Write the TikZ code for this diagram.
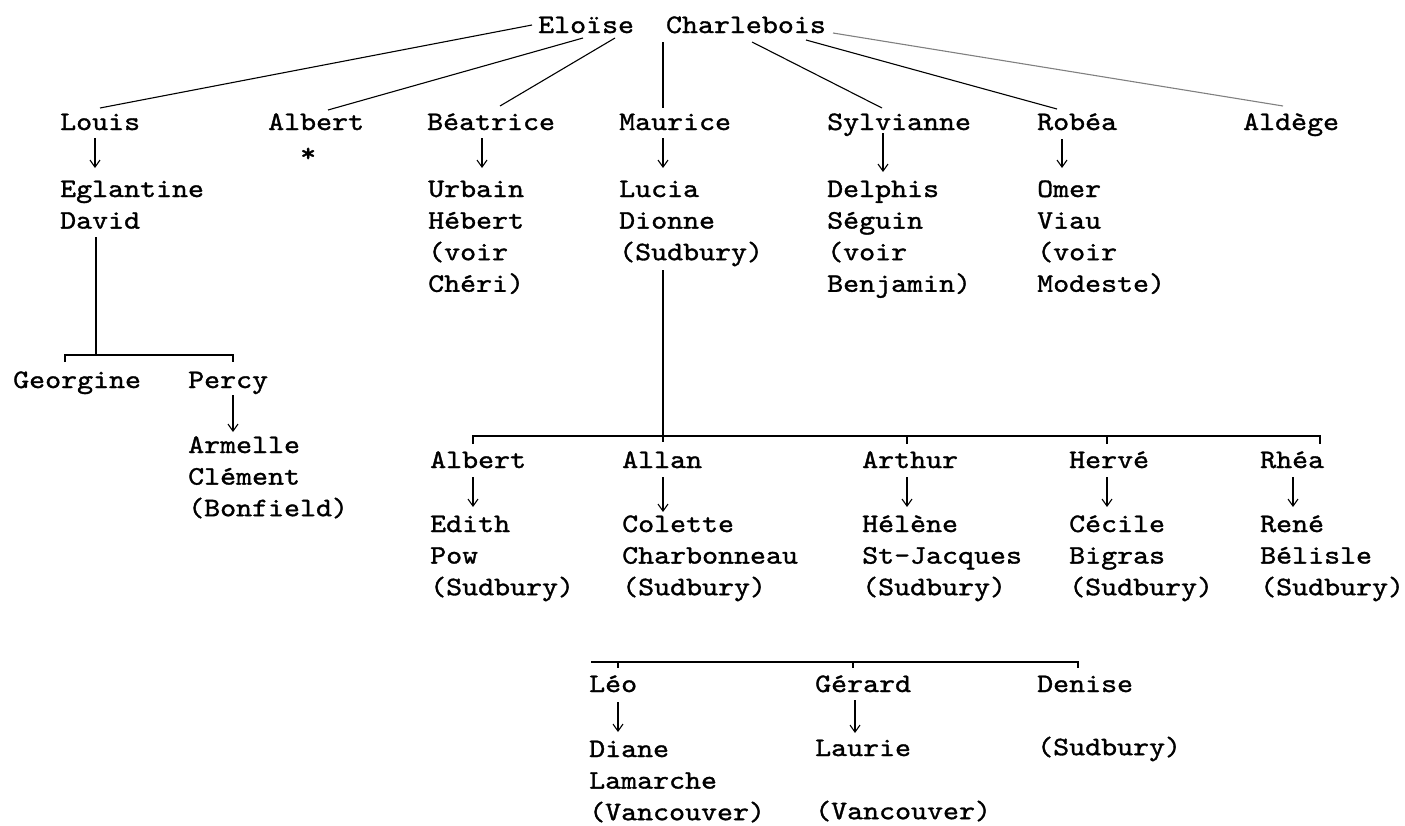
\documentclass[tikz,border=0pt]{standalone}
\usepackage{fontspec}
\newfontfamily\typewriter[FakeStretch=1.14,FakeBold=1.2]{lmmono10-regular.otf}
\usetikzlibrary{arrows,arrows.meta}

% lines of one entry, first line on the node's base
\newcommand{\famlines}[1]{\begin{tabular}[t]{@{}l@{}}#1\end{tabular}}

\tikzset{
  person/.style={anchor=base west,inner sep=0pt,
    font=\typewriter\fontsize{26.7}{31.6}\selectfont},
  link/.style={line width=1.1pt},
  paleline/.style={link,black!50},
  arr/.style={link,-{Straight Barb[length=7pt,width=10pt]}},
}

\begin{document}
\begin{tikzpicture}[x=1pt,y=-1pt]
  \useasboundingbox (0,0) rectangle (1405,825);

  % Eloise and her children
  \node[person] (root) at (538,33) {Eloïse\ \ Charlebois};
  \node[person] (louis) at (60,130) {Louis};
  \node[person] (albert) at (268,130) {\famlines{Albert\\\phantom{Al}*}};
  \node[person] (beatrice) at (427,130) {Béatrice};
  \node[person] (maurice) at (619,130) {Maurice};
  \node[person] (sylvianne) at (827,130) {Sylvianne};
  \node[person] (robea) at (1037,130) {Robéa};
  \node[person] (aldege) at (1243,130) {Aldège};

  \draw[link] ([shift={(-6,-8)}]root.base west) -- ([shift={(40,-22)}]louis.base west);
  \draw[link] ([shift={(45,5)}]root.base west) -- ([shift={(60,-20)}]albert.base west);
  \draw[link] ([shift={(77,5)}]root.base west) -- ([shift={(73,-24)}]beatrice.base west);
  \draw[link] ([shift={(125,9)}]root.base west) -- ([shift={(44,-22)}]maurice.base west);
  \draw[link] ([shift={(214,9)}]root.base west) -- ([shift={(55,-22)}]sylvianne.base west);
  \draw[link] ([shift={(268,7)}]root.base west) -- ([shift={(20,-21)}]robea.base west);
  \draw[paleline] ([shift={(295,0)}]root.base west) -- ([shift={(40,-24)}]aldege.base west);

  % spouses
  \node[person] (eglantine) at (60,197) {\famlines{Eglantine\\David}};
  \node[person] (urbain) at (428,197) {\famlines{Urbain\\Hébert\\(voir\\Chéri)}};
  \node[person] (lucia) at (619,197) {\famlines{Lucia\\Dionne\\(Sudbury)}};
  \node[person] (delphis) at (827,197) {\famlines{Delphis\\Séguin\\(voir\\Benjamin)}};
  \node[person] (omer) at (1037,197) {\famlines{Omer\\Viau\\(voir\\Modeste)}};

  \draw[arr] ([shift={(35,8)}]louis.base west) -- ([shift={(35,-29)}]eglantine.base west);
  \draw[arr] ([shift={(55,8)}]beatrice.base west) -- ([shift={(54,-29)}]urbain.base west);
  \draw[arr] ([shift={(44,8)}]maurice.base west) -- ([shift={(44,-29)}]lucia.base west);
  \draw[arr] ([shift={(56,3)}]sylvianne.base west) -- ([shift={(56,-25)}]delphis.base west);
  \draw[arr] ([shift={(25,9)}]robea.base west) -- ([shift={(25,-29)}]omer.base west);

  % Louis' family
  \node[person] (georgine) at (13,388) {Georgine};
  \node[person] (percy) at (188,388) {Percy};
  \node[person] (armelle) at (188,453) {\famlines{Armelle\\Clément\\(Bonfield)}};

  \draw[link] ([shift={(36,40)}]eglantine.base west) -- ([shift={(83,-33)}]georgine.base west);
  \draw[link] ([shift={(52,-26)}]georgine.base west) -- ++(0,-7) -| ([shift={(45,-26)}]percy.base west);
  \draw[arr] ([shift={(45,7)}]percy.base west) -- ([shift={(45,-21)}]armelle.base west);

  % Maurice's family
  \node[person] (albertb) at (430,468) {Albert};
  \node[person] (allan) at (622,468) {Allan};
  \node[person] (arthur) at (862,468) {Arthur};
  \node[person] (herve) at (1069,468) {Hervé};
  \node[person] (rhea) at (1260,468) {Rhéa};

  \draw[link] ([shift={(44,73)}]lucia.base west) -- ([shift={(41,-26)}]allan.base west);
  \draw[link] ([shift={(43,-24)}]albertb.base west) -- ++(0,-8) -| ([shift={(60,-24)}]rhea.base west);
  \draw[link] ([shift={(45,-32)}]arthur.base west) -- ++(0,8);
  \draw[link] ([shift={(38,-32)}]herve.base west) -- ++(0,8);

  \node[person] (edith) at (430,532) {\famlines{Edith\\Pow\\(Sudbury)}};
  \node[person] (colette) at (622,532) {\famlines{Colette\\Charbonneau\\(Sudbury)}};
  \node[person] (helene) at (862,532) {\famlines{Hélène\\St-Jacques\\(Sudbury)}};
  \node[person] (cecile) at (1069,532) {\famlines{Cécile\\Bigras\\(Sudbury)}};
  \node[person] (rene) at (1260,532) {\famlines{René\\Bélisle\\(Sudbury)}};

  \draw[arr] ([shift={(43,9)}]albertb.base west) -- ([shift={(43,-25)}]edith.base west);
  \draw[arr] ([shift={(41,9)}]allan.base west) -- ([shift={(41,-20)}]colette.base west);
  \draw[arr] ([shift={(45,9)}]arthur.base west) -- ([shift={(45,-25)}]helene.base west);
  \draw[arr] ([shift={(38,9)}]herve.base west) -- ([shift={(38,-25)}]cecile.base west);
  \draw[arr] ([shift={(33,9)}]rhea.base west) -- ([shift={(33,-25)}]rene.base west);

  % next generation
  \node[person] (leo) at (589,692) {Léo};
  \node[person] (gerard) at (815,692) {Gérard};
  \node[person] (denise) at (1037,692) {\famlines{Denise\\\\(Sudbury)}};
  \node[person] (diane) at (589,757) {\famlines{Diane\\Lamarche\\(Vancouver)}};
  \node[person] (laurie) at (815,756) {\famlines{Laurie\\\\(Vancouver)}};

  \draw[link] ([shift={(2,-30)}]leo.base west) -| ([shift={(41,-24)}]denise.base west);
  \draw[link] ([shift={(29,-30)}]leo.base west) -- ++(0,6);
  \draw[link] ([shift={(38,-30)}]gerard.base west) -- ++(0,6);

  \draw[arr] ([shift={(29,10)}]leo.base west) -- ([shift={(29,-25)}]diane.base west);
  \draw[arr] ([shift={(40,8)}]gerard.base west) -- ([shift={(40,-23)}]laurie.base west);
\end{tikzpicture}
\end{document}
